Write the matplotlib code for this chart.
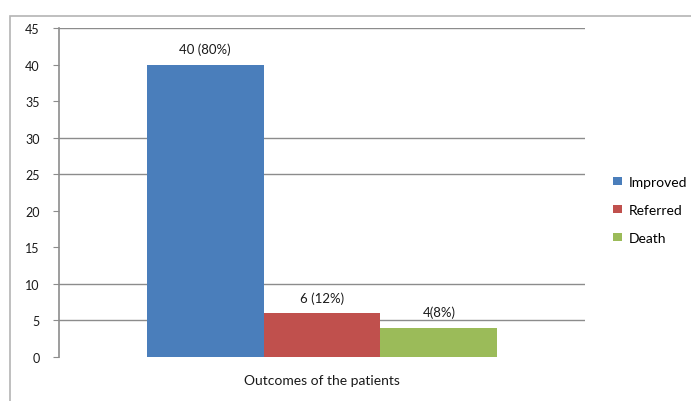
import matplotlib
matplotlib.use('Agg')
import matplotlib.pyplot as plt
from matplotlib.patches import Rectangle

# Patient outcomes
categories = ['Improved', 'Referred', 'Death']
counts = [40, 6, 4]
percents = [80, 12, 8]
labels = ['40 (80%)', '6 (12%)', '4(8%)']
colors = ['#4a7ebb', '#c0504d', '#9bbb59']

yticks = list(range(0, 50, 5))
# horizontal lines drawn across the plot
gridlines = [5, 10, 25, 30, 45]

plt.rcParams['font.family'] = ['Lato', 'DejaVu Sans']

fig = plt.figure(figsize=(6.91, 4.02), dpi=100)
ax = fig.add_axes([0.0854, 0.1095, 0.7612, 0.8184])

# outer chart border (top and left edges)
fig.patches.append(Rectangle((10 / 691, -0.1), 1.2, 1 - 17 / 402 + 0.1,
                             transform=fig.transFigure, fill=False,
                             edgecolor='#b4b4b4', linewidth=1.2))

width = 1.0 / 1.5 / len(categories)
for i, (cat, val) in enumerate(zip(categories, counts)):
    x = -1.0 / 3 + width * (i + 0.5)
    ax.bar(x, val, width=width, color=colors[i], label=cat, zorder=3)
    ax.text(x, val + 1.3, labels[i], ha='center', va='bottom',
            fontsize=9.5, color='#1a1a1a')

for g in gridlines:
    ax.axhline(g, color='#8c8c8c', linewidth=1.0, zorder=1)

ax.set_xlim(-0.5, 0.5)
ax.set_ylim(0, 45)
ax.set_yticks(yticks)
ax.set_xticks([])
ax.tick_params(axis='y', labelsize=9, length=4, color='#8c8c8c',
               labelcolor='#1a1a1a', pad=10)
for s in ['top', 'right', 'bottom']:
    ax.spines[s].set_visible(False)
ax.spines['left'].set_color('#8c8c8c')
ax.spines['left'].set_linewidth(1.2)

ax.set_xlabel('Outcomes of the patients', fontsize=10, color='#1a1a1a',
              labelpad=12)

ax.legend(loc='center left', bbox_to_anchor=(1.03, 0.447), frameon=False,
          fontsize=10, handlelength=0.6, handleheight=0.6, handletextpad=0.5,
          labelspacing=1.15)

fig.savefig('out.png', dpi=100, facecolor='white')
